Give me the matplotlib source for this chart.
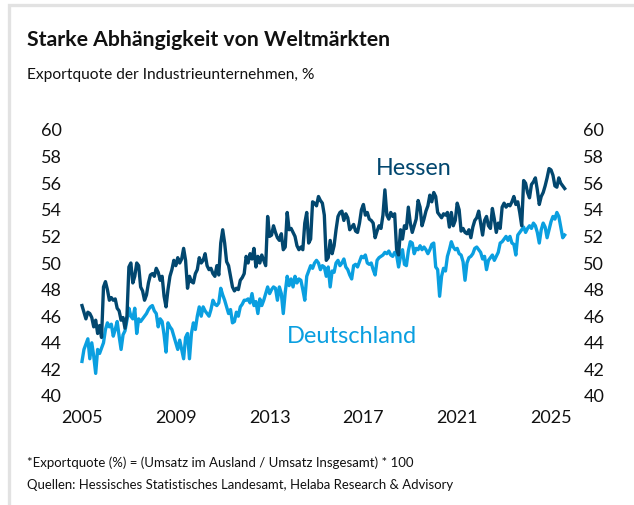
import numpy as np
import matplotlib
matplotlib.use("Agg")
import matplotlib.pyplot as plt
from matplotlib.patches import Rectangle

# ---------------- data (monthly, Jan 2005 - Aug 2025) ----------------
start_year = 2005
hessen = [
    46.8, 46.3, 45.8, 46.3, 46.2, 45.9, 45.2, 45.7, 44.7, 45.3, 44.4, 48.2,  # 2005
    48.6, 48.0, 47.2, 47.4, 47.2, 47.3, 46.6, 46.4, 45.7, 45.9, 45.1, 46.0,  # 2006
    49.7, 50.0, 48.5, 49.0, 50.0, 49.8, 48.2, 47.9, 47.2, 47.6, 48.5, 49.1,  # 2007
    49.2, 49.0, 49.6, 49.3, 48.7, 49.0, 47.5, 46.7, 48.0, 49.0, 49.5, 50.2,  # 2008
    49.8, 50.4, 50.0, 50.3, 51.1, 50.2, 48.1, 49.0, 48.6, 48.5, 49.2, 49.5,  # 2009
    50.4, 50.0, 50.2, 50.7, 49.8, 49.5, 49.6, 49.2, 49.0, 49.8, 49.1, 51.5,  # 2010
    52.5, 51.5, 50.1, 49.8, 49.0, 48.2, 47.9, 48.1, 48.0, 48.7, 48.9, 49.2,  # 2011
    50.5, 50.0, 50.7, 50.3, 51.1, 49.7, 50.5, 50.0, 50.6, 50.2, 49.8, 53.5,  # 2012
    52.0, 52.1, 52.8, 52.3, 51.9, 51.7, 52.2, 51.0, 51.2, 53.8, 52.5, 52.6,  # 2013
    52.3, 52.0, 51.3, 51.0, 51.2, 51.0, 53.0, 53.8, 51.5, 51.8, 54.6, 54.5,  # 2014
    54.3, 55.0, 54.7, 54.5, 53.6, 50.2, 50.4, 51.7, 50.7, 51.3, 52.5, 53.5,  # 2015
    53.8, 53.9, 53.2, 53.7, 53.4, 52.5, 52.7, 52.9, 52.4, 52.3, 53.0, 54.0,  # 2016
    54.4, 53.6, 53.8, 53.3, 53.2, 53.0, 51.9, 52.4, 52.8, 52.6, 53.6, 55.5,  # 2017
    53.6, 53.3, 53.8, 53.5, 53.7, 51.0, 50.6, 52.5, 51.8, 52.8, 52.6, 54.2,  # 2018
    53.0, 52.3, 52.8, 53.3, 54.7, 54.2, 52.8, 53.3, 53.9, 54.3, 55.1, 54.6,  # 2019
    55.3, 55.0, 53.8, 53.6, 53.4, 53.7, 53.6, 53.8, 52.7, 53.8, 52.8, 53.2,  # 2020
    54.5, 54.0, 52.4, 52.6, 52.3, 52.2, 52.5, 51.9, 52.7, 53.2, 53.4, 53.9,  # 2021
    53.0, 52.1, 53.2, 53.5, 52.8, 52.6, 54.1, 53.3, 52.3, 53.0, 52.6, 54.2,  # 2022
    54.5, 54.2, 54.4, 54.3, 54.6, 55.0, 54.4, 54.6, 53.8, 52.8, 56.2, 56.0,  # 2023
    55.3, 54.9, 55.9, 56.1, 56.4, 55.5, 54.4, 55.0, 55.3, 55.8, 56.4, 57.1,  # 2024
    57.0, 56.6, 55.8, 55.7, 56.4, 56.0, 55.8, 55.6,                          # 2025
]
deutschland = [
    42.6, 43.5, 43.9, 44.3, 42.8, 44.0, 43.0, 41.7, 43.5, 43.2, 43.6, 44.0,  # 2005
    45.0, 45.5, 45.2, 45.4, 44.5, 45.0, 45.6, 44.5, 43.5, 44.6, 44.9, 45.7,  # 2006
    46.6, 46.0, 45.8, 46.6, 44.7, 45.8, 45.6, 45.8, 46.0, 46.2, 46.5, 46.7,  # 2007
    46.8, 46.4, 46.2, 45.2, 45.8, 45.6, 44.6, 43.3, 45.5, 45.2, 45.0, 44.5,  # 2008
    44.0, 43.5, 44.2, 43.5, 42.8, 44.4, 44.7, 42.8, 44.7, 45.5, 45.0, 46.0,  # 2009
    46.7, 46.0, 46.7, 46.4, 46.2, 46.0, 46.5, 47.2, 46.9, 46.8, 47.0, 48.1,  # 2010
    47.6, 47.2, 46.7, 46.2, 46.5, 45.5, 45.6, 46.3, 46.0, 46.7, 46.9, 47.2,  # 2011
    47.2, 47.3, 47.0, 47.7, 46.8, 47.1, 46.2, 47.3, 46.8, 47.2, 47.7, 48.2,  # 2012
    47.7, 48.0, 48.2, 48.1, 47.2, 48.2, 47.7, 46.2, 47.8, 49.0, 48.3, 48.8,  # 2013
    48.2, 49.0, 48.5, 48.8, 48.7, 48.0, 47.2, 49.0, 49.4, 49.8, 49.6, 50.0,  # 2014
    50.2, 50.0, 49.5, 49.8, 49.7, 49.0, 49.7, 48.2, 49.4, 49.3, 50.0, 50.2,  # 2015
    49.8, 50.0, 50.3, 49.7, 49.5, 49.1, 48.8, 49.8, 49.9, 49.7, 50.1, 50.5,  # 2016
    50.4, 50.6, 50.0, 49.9, 50.0, 49.5, 49.1, 50.2, 50.4, 50.5, 50.6, 50.8,  # 2017
    50.7, 50.9, 50.6, 50.5, 50.8, 50.6, 49.7, 50.5, 51.0, 49.9, 49.8, 50.9,  # 2018
    51.6, 51.5, 50.7, 51.1, 51.0, 51.3, 51.0, 51.2, 51.0, 50.7, 51.0, 51.4,  # 2019
    51.5, 49.7, 49.5, 47.5, 49.0, 49.6, 49.4, 50.5, 51.0, 51.6, 51.2, 51.0,  # 2020
    51.1, 50.7, 50.6, 50.1, 48.7, 50.0, 50.4, 50.5, 50.7, 51.1, 51.2, 51.0,  # 2021
    50.8, 50.3, 50.5, 49.5, 50.2, 50.4, 50.6, 50.2, 50.5, 50.8, 51.5, 51.6,  # 2022
    51.8, 52.0, 51.7, 52.0, 51.5, 51.4, 50.6, 52.1, 52.3, 52.5, 52.7, 52.3,  # 2023
    52.6, 52.8, 52.6, 53.0, 52.8, 52.3, 51.5, 52.5, 53.0, 52.7, 51.9, 52.5,  # 2024
    53.1, 53.5, 53.3, 53.8, 53.5, 52.7, 51.9, 52.1,                          # 2025
]
x_ticks = [2005, 2009, 2013, 2017, 2021, 2025]
y_ticks = [40, 42, 44, 46, 48, 50, 52, 54, 56, 58, 60]

title = "Starke Abhängigkeit von Weltmärkten"
subtitle = "Exportquote der Industrieunternehmen, %"
note1 = "*Exportquote (%) = (Umsatz im Ausland / Umsatz Insgesamt) * 100"
note2 = "Quellen: Hessisches Statistisches Landesamt, Helaba Research & Advisory"

# ---------------- styling ----------------
plt.rcParams['font.family'] = ['Liberation Sans Narrow', 'Lato', 'DejaVu Sans']
C_HES = "#02476f"
C_DE = "#0a9fe0"
W, H = 634, 505

fig = plt.figure(figsize=(W / 100, H / 100), dpi=100)
fig.patch.set_facecolor("white")

def fx(px):
    return px / W

def fy(py):
    return 1 - py / H

# axes placed in pixel space: 2005 -> 82px, 2025 -> 551px ; 60 -> 130px, 40 -> 396px
ax_left, ax_right = 70, 575
ppy = (551 - 82) / 20.0
xl0 = 2005 - (82 - ax_left) / ppy
xl1 = 2025 + (ax_right - 551) / ppy
ax = fig.add_axes([fx(ax_left), fy(396), (ax_right - ax_left) / W, (396 - 130) / H])
ax.set_xlim(xl0, xl1)
ax.set_ylim(40, 60)

t = start_year + np.arange(len(hessen)) / 12.0
ax.plot(t, deutschland, color=C_DE, lw=2.4, solid_joinstyle='round', zorder=2)
ax.plot(t, hessen, color=C_HES, lw=2.4, solid_joinstyle='round', zorder=3)

for s in ax.spines.values():
    s.set_visible(False)
ax.set_xticks(x_ticks)
ax.set_xticklabels([str(v) for v in x_ticks])
ax.set_yticks(y_ticks)
ax.set_yticklabels([str(v) for v in y_ticks])
ax.tick_params(axis='both', length=0, labelsize=13, colors='#111111')
ax.tick_params(axis='y', labelleft=True, labelright=True, pad=6)
ax.tick_params(axis='x', pad=10)
ax.set_facecolor('none')

# frame border
fig.add_artist(Rectangle((fx(8.5), -0.2), 2.0, fy(4.5) + 0.2, transform=fig.transFigure,
                         fill=False, ec="#e2e2e2", lw=2.4, zorder=0))

renderer = fig.canvas.get_renderer()

def fit(txt, width_px):
    bb = txt.get_window_extent(renderer)
    txt.set_fontsize(txt.get_fontsize() * width_px / bb.width)

t1 = fig.text(fx(27), fy(46), title, fontsize=16, fontweight='bold', color='#111111', va='baseline')
fit(t1, 365)
t2 = fig.text(fx(27), fy(79), subtitle, fontsize=12, color='#111111', va='baseline')
fit(t2, 286)
t3 = fig.text(fx(27), fy(467), note1, fontsize=10, color='#111111', va='baseline')
fit(t3, 386)
t4 = fig.text(fx(27), fy(489), note2, fontsize=10, color='#111111', va='baseline')
fit(t4, 425)

l1 = fig.text(fx(376), fy(175), "Hessen", fontsize=15, color=C_HES, va='baseline')
fit(l1, 76)
l2 = fig.text(fx(287), fy(343), "Deutschland", fontsize=15, color=C_DE, va='baseline')
fit(l2, 131)

fig.savefig("out.png", dpi=100, facecolor="white")
